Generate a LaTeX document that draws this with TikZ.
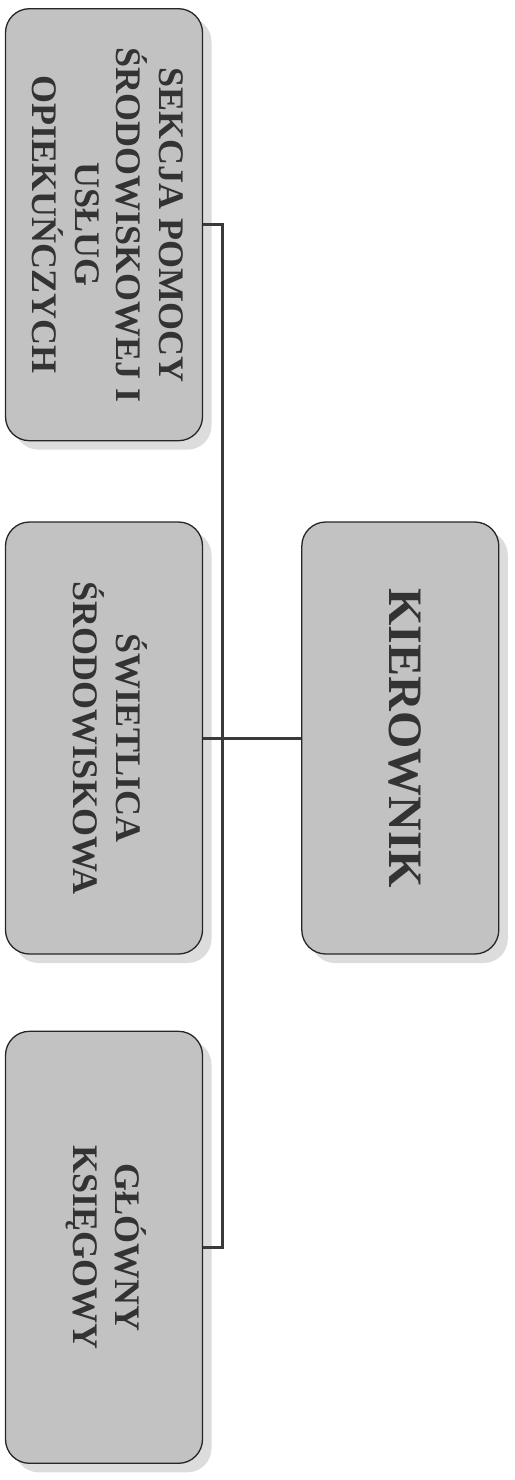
\documentclass[tikz,border=0pt]{standalone}
\usepackage{fontspec}
\setmainfont{Liberation Serif}
\usepackage{graphicx}
\usetikzlibrary{positioning,shadows}
\definecolor{ChartInk}{HTML}{333333}
\definecolor{ChartFill}{HTML}{C2C2C2}
\definecolor{ChartShade}{HTML}{DCDCDC}
\definecolor{ChartLine}{HTML}{3A3A3A}

\newcommand{\boxtext}[3]{\rotatebox[origin=c]{-90}{\fontsize{#1}{#2}\selectfont\bfseries
  \begin{tabular}{@{}c@{}}#3\end{tabular}}}

\begin{document}
\begin{tikzpicture}[
    x=1pt, y=-1pt,
    node distance=77pt,
    box/.style={rectangle, draw=black!85, line width=1.3pt, rounded corners=24pt, fill=ChartFill,
      minimum width=197pt, minimum height=432pt, inner sep=0pt, align=center, text=ChartInk,
      drop shadow={shadow xshift=9pt, shadow yshift=-9pt, fill=ChartShade, opacity=1}},
    link/.style={ChartLine, line width=3pt}
]
\useasboundingbox (0,0) rectangle (514,1480);

% Nodes
\node[box] (swietlica) at (104,738) {\boxtext{36pt}{42pt}{ŚWIETLICA\\ŚRODOWISKOWA}};
\node[box, above=80pt of swietlica] (sekcja) {\boxtext{36pt}{41pt}{SEKCJA POMOCY\\ŚRODOWISKOWEJ I\\USŁUG\\OPIEKUŃCZYCH}};
\node[box, below=76pt of swietlica] (glowny) {\boxtext{36pt}{42pt}{GŁÓWNY\\KSIĘGOWY}};
\node[box, right=98pt of swietlica] (kierownik) {\boxtext{48pt}{56pt}{KIEROWNIK}};
\coordinate (trunk) at (222,738);

% Lines
\draw[link] (sekcja.east) -| (trunk) |- (glowny.east);
\draw[link] (swietlica.east) -- (kierownik.west);

\end{tikzpicture}
\end{document}
